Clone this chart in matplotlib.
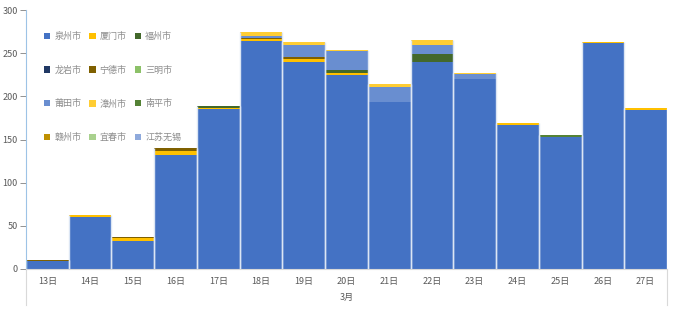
import numpy as np
import matplotlib.pyplot as plt
from matplotlib.patches import Patch

plt.rcParams['font.family'] = ['Noto Sans CJK SC', 'DejaVu Sans']

# 数据
days = ['13日', '14日', '15日', '16日', '17日', '18日', '19日', '20日',
        '21日', '22日', '23日', '24日', '25日', '26日', '27日']
cities = ['泉州市', '厦门市', '福州市', '龙岩市', '宁德市', '三明市',
          '莆田市', '漳州市', '南平市', '赣州市', '宜春市', '江苏无锡']

quanzhou = [9, 60, 33, 132, 185, 264, 240, 225, 193, 240, 220, 167, 153, 262, 184]
xiamen   = [0, 2, 3, 5, 1, 2, 3, 2, 1, 0, 0, 2, 0, 1, 2]
fuzhou   = [0, 0, 0, 0, 3, 0, 0, 4, 0, 9, 0, 0, 0, 0, 0]
longyan  = [0, 0, 0, 0, 0, 0, 0, 0, 0, 0, 0, 0, 0, 0, 0]
ningde   = [1, 0, 1, 3, 0, 2, 3, 0, 0, 0, 0, 0, 0, 0, 1]
sanming  = [0, 0, 0, 0, 0, 0, 0, 0, 0, 0, 0, 0, 0, 0, 0]
putian   = [0, 0, 0, 0, 0, 2, 13, 21, 17, 10, 6, 0, 0, 0, 0]
zhangzhou = [0, 0, 0, 0, 0, 4, 4, 2, 3, 6, 1, 0, 0, 0, 0]
nanping  = [0, 0, 0, 0, 0, 0, 0, 0, 0, 0, 0, 0, 2, 0, 0]
ganzhou  = [0, 0, 0, 0, 0, 0, 0, 0, 0, 0, 0, 0, 0, 0, 0]
yichun   = [0, 0, 0, 0, 0, 0, 0, 0, 0, 0, 0, 0, 0, 0, 0]
wuxi     = [0, 0, 0, 0, 0, 0, 0, 0, 0, 0, 0, 0, 0, 0, 0]

series = [quanzhou, xiamen, fuzhou, longyan, ningde, sanming,
          putian, zhangzhou, nanping, ganzhou, yichun, wuxi]
colors = ['#4472C4', '#FFC000', '#43682B', '#203864', '#7F6000', '#8CC168',
          '#698ED0', '#FFCD33', '#548235', '#BF9000', '#A9D18E', '#8FAADC']

fig = plt.figure(figsize=(6.77, 3.32), dpi=100)
ax = fig.add_axes([26 / 677, 63 / 332, 641 / 677, 259 / 332])

x = np.arange(len(days))
bottom = np.zeros(len(days))
for vals, c, name in zip(series, colors, cities):
    vals = np.array(vals, dtype=float)
    ax.bar(x, vals, width=1.0, bottom=bottom, color=c, linewidth=0,
           label=name)
    bottom += vals

# 柱子之间的浅色分隔线
for i, h in enumerate(bottom):
    ax.vlines([i - 0.5, i + 0.5], 0, h, colors='#DCE6F4', linewidth=1.0)

ax.set_xlim(-0.5, len(days) - 0.5)
ax.set_ylim(0, 300)
ax.set_yticks(range(0, 301, 50))
ax.tick_params(axis='y', labelsize=6.5, colors='#808080', length=4, width=0.6,
               labelcolor='#595959', pad=2)
ax.set_xticks(x)
ax.set_xticklabels(days)
ax.tick_params(axis='x', labelsize=6.5, length=0, labelcolor='#595959', pad=6)

for s in ['top', 'right']:
    ax.spines[s].set_visible(False)
ax.spines['left'].set_color('#9DC3E6')
ax.spines['left'].set_linewidth(0.8)
ax.spines['bottom'].set_color('#D9D9D9')
ax.spines['bottom'].set_linewidth(0.8)

# 分类轴两端的竖线和月份标签
trans = ax.get_xaxis_transform()
for xe in [-0.5, len(days) - 0.5]:
    ax.plot([xe, xe], [0, -36 / 259], color='#D9D9D9', lw=0.8,
            transform=trans, clip_on=False)
ax.text((len(days) - 1) / 2, -28 / 259, '3月', transform=trans,
        ha='center', va='center', fontsize=6.5, color='#595959')

# 图例: 逐行排列
order = [0, 3, 6, 9, 1, 4, 7, 10, 2, 5, 8, 11]
handles = [Patch(facecolor=colors[i], edgecolor='none') for i in order]
labels = [cities[i] for i in order]
ax.legend(handles, labels, ncol=3, loc='upper left',
          bbox_to_anchor=(0.018, 0.94), frameon=False, fontsize=6.5,
          handlelength=0.7, handleheight=0.7, handletextpad=0.45,
          columnspacing=0.9, labelspacing=2.73, labelcolor='#8C8C8C',
          borderaxespad=0.3)

fig.savefig('out.png', dpi=100)
